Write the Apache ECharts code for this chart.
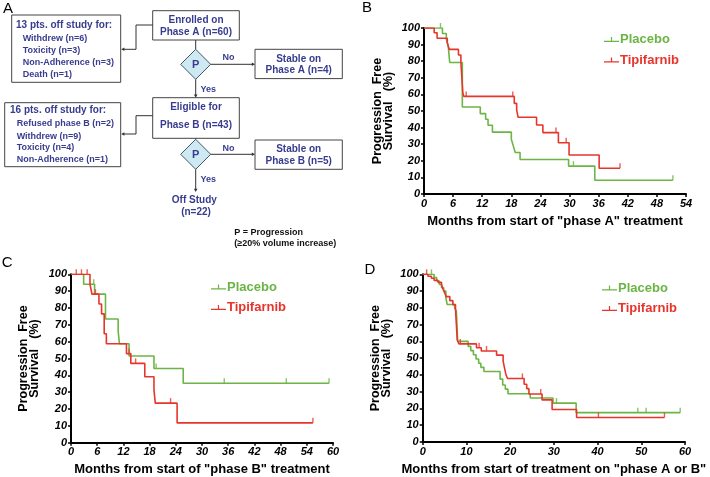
<!DOCTYPE html>
<html><head><meta charset="utf-8">
<script src="https://cdn.jsdelivr.net/npm/echarts/dist/echarts.min.js"></script>
<style>html,body{margin:0;padding:0;background:#fff}#c{width:710px;height:477px}</style>
</head><body><div id="c"></div>
<script>
// ---------- data ----------
const seriesNames = ['Placebo', 'Tipifarnib'];
const yTicks = [0, 10, 20, 30, 40, 50, 60, 70, 80, 90, 100];

// Panel B: months from start of "phase A"
const bPlaceboT = [0, 3.8, 4.6, 5.0, 5.3, 7.9, 11.6, 12.7, 13.2, 14.1, 18.0, 18.4, 18.8, 19.8, 29.8, 35.2, 51.3];
const bPlaceboS = [100, 96.7, 93.3, 88.9, 79.2, 52.4, 48.4, 45, 41.4, 37.3, 33, 29, 25, 20.8, 16.8, 8.3, 8.3];
const bPlaceboCens = [3.4, 30.8, 51.3];
const bTipiT = [0, 2.1, 2.7, 4.8, 5.2, 7.1, 7.6, 8.0, 8.2, 18.6, 19.1, 19.4, 23.2, 24.5, 27.7, 29.9, 36.1, 40.4];
const bTipiS = [100, 97.1, 93.8, 91.2, 87.1, 83.7, 79.4, 61, 58.8, 54.6, 50.5, 46.2, 41.6, 37, 30.9, 23.5, 15.5, 15.5];
const bTipiCens = [8.7, 18.3, 27.2, 29.3, 40.4];

// Panel C: months from start of "phase B"
const cPlaceboT = [0, 2.9, 5.4, 7.9, 10.8, 11.1, 13.3, 19.0, 25.7, 59.1];
const cPlaceboS = [100, 94.1, 88.2, 73.5, 66.2, 58.8, 51.5, 44.1, 35.3, 35.3];
const cPlaceboCens = [5.2, 19.5, 35.1, 49.3, 59.1];
const cTipiT = [0, 4.35, 4.8, 6.4, 7.0, 7.6, 8.1, 12.7, 13.7, 16.9, 19.0, 19.3, 24.3, 55.4];
const cTipiS = [100, 94.1, 88.2, 82.4, 76.5, 64.7, 58.8, 52.9, 47.1, 39.2, 31.4, 23.5, 11.8, 11.8];
const cTipiCens = [1.2, 2.4, 3.7, 5.6, 13.3, 14.8, 22.8, 55.4];

// Panel D: months from start of treatment on "phase A or B"
const dPlaceboT = [0, 2.6, 3.2, 3.8, 4.3, 4.8, 5.3, 5.6, 7.3, 7.7, 8.0, 10.4, 11.0, 11.6, 12.2, 12.8, 13.3, 14.0, 17.7, 18.3, 18.9, 19.5, 24.6, 29.8, 35.1, 58.9];
const dPlaceboS = [100, 98, 96, 94, 92, 90, 86, 82, 80, 78, 60, 57, 54.5, 52, 49.5, 47, 44.5, 42, 37.5, 34, 31.5, 28.8, 26.2, 23.2, 17.5, 17.5];
const dPlaceboCens = [2.0, 30.6, 49.2, 51.1, 58.9];
const dTipiT = [0, 1.2, 2.0, 2.6, 3.5, 4.3, 4.6, 5.0, 5.4, 6.2, 6.9, 7.5, 7.9, 8.3, 12.3, 13.4, 16.9, 18.4, 18.7, 19.0, 19.4, 23.2, 23.8, 24.3, 27.3, 29.6, 35.2, 55.3];
const dTipiS = [100, 98.8, 97.6, 96.4, 95.2, 93.9, 91.5, 89.1, 86.7, 84.3, 81.9, 79.5, 61, 58.5, 56.2, 54.3, 51.8, 48.2, 44.4, 40.6, 37.9, 34.4, 31.8, 28.6, 25.1, 19.4, 14.6, 14.6];
const dTipiCens = [0.9, 8.6, 12.9, 14.6, 22.8, 27.0, 40.2, 55.3];

const xTitles = ['Months from start of "phase A" treatment', 'Months from start of "phase B" treatment', 'Months from start of treatment on "phase A or B"'];
const yTitle = 'Progression  Free\nSurvival   (%)';

// Panel A flowchart texts
const enrolledText = ['Enrolled on', 'Phase A (n=60)'];
const off1Title = '13 pts. off study for:';
const off1Items = ['Withdrew (n=6)', 'Toxicity (n=3)', 'Non-Adherence (n=3)', 'Death (n=1)'];
const stableAText = ['Stable on', 'Phase A (n=4)'];
const eligibleText = ['Eligible for', 'Phase B (n=43)'];
const off2Title = '16 pts. off study for:';
const off2Items = ['Refused phase B (n=2)', 'Withdrew (n=9)', 'Toxicity (n=4)', 'Non-Adherence (n=1)'];
const stableBText = ['Stable on', 'Phase B (n=5)'];
const offStudyText = ['Off Study', '(n=22)'];
const noteText = ['P = Progression', '(\u226520% volume increase)'];

// ---------- build ----------
const GREEN = '#6cb544', RED = '#e8352c', INK = '#383c8e', FF = '"Liberation Sans", Arial, sans-serif';
function km(T, S) { return T.map((t, i) => [t, S[i]]); }
function survAt(T, S, t) { let v = S[0]; for (let i = 0; i < T.length; i++) if (T[i] <= t) v = S[i]; return v; }
function cens(T, S, C) { return C.map(t => [t, survAt(T, S, t)]); }

const panels = [
  {grid: {left: 424, top: 28, width: 262, height: 166}, xmax: 54, xint: 6, gap: 30,
   p: [bPlaceboT, bPlaceboS, bPlaceboCens], t: [bTipiT, bTipiS, bTipiCens], legend: {left: 599, top: 28}},
  {grid: {left: 71, top: 274.3, width: 262, height: 168.4}, xmax: 60, xint: 6, gap: 31,
   p: [cPlaceboT, cPlaceboS, cPlaceboCens], t: [cTipiT, cTipiS, cTipiCens], legend: {left: 206, top: 275.5}},
  {grid: {left: 422.7, top: 274.3, width: 262.3, height: 168}, xmax: 60, xint: 10, gap: 31,
   p: [dPlaceboT, dPlaceboS, dPlaceboCens], t: [dTipiT, dTipiS, dTipiCens], legend: {left: 597, top: 276.5}}
];

const grids = [], xAxes = [], yAxes = [], series = [], legends = [];
const lblStyle = {color: '#000', fontWeight: 'bold', fontStyle: 'italic', fontSize: 11, fontFamily: FF};
const legendIcon = 'path://M0,8 L20,8 L20,9.6 L0,9.6 Z M9.2,3 L10.8,3 L10.8,8 L9.2,8 Z';
panels.forEach((pn, i) => {
  grids.push(pn.grid);
  xAxes.push({type: 'value', gridIndex: i, min: 0, max: pn.xmax, interval: pn.xint,
    axisLine: {show: true, onZero: false, lineStyle: {color: '#000', width: 2}},
    axisTick: {show: true, length: 3, lineStyle: {color: '#000', width: 1.5}},
    axisLabel: Object.assign({margin: 4}, lblStyle), splitLine: {show: false},
    name: xTitles[i], nameLocation: 'middle', nameGap: i === 1 ? 20 : 21,
    nameTextStyle: {color: '#000', fontWeight: 'bold', fontSize: 13, fontFamily: FF}});
  yAxes.push({type: 'value', gridIndex: i, min: 0, max: 100, interval: 10,
    axisLine: {show: true, onZero: false, lineStyle: {color: '#000', width: 2}},
    axisTick: {show: true, length: 3, lineStyle: {color: '#000', width: 1.5}},
    axisLabel: Object.assign({margin: 4, formatter: v => yTicks.includes(v) ? String(v) : ''}, lblStyle), splitLine: {show: false},
    name: yTitle, nameLocation: 'middle', nameRotate: 90, nameGap: pn.gap,
    nameTextStyle: {color: '#000', fontWeight: 'bold', fontSize: 12.5, lineHeight: 11, fontFamily: FF}});
  [[pn.p, 'Placebo', GREEN], [pn.t, 'Tipifarnib', RED]].forEach(([d, nm, col]) => {
    series.push({type: 'line', name: nm, xAxisIndex: i, yAxisIndex: i, step: 'end', showSymbol: false, symbol: 'none',
      data: km(d[0], d[1]), lineStyle: {color: col, width: 1.6}, itemStyle: {color: col}, z: nm === 'Tipifarnib' ? 3 : 2});
    series.push({type: 'scatter', name: nm + ' censored', xAxisIndex: i, yAxisIndex: i, symbol: 'rect',
      symbolSize: [1.4, 5], symbolOffset: [0, -2.5], data: cens(d[0], d[1], d[2]), itemStyle: {color: col}, z: 4});
  });
  legends.push({left: pn.legend.left, top: pn.legend.top, orient: 'vertical', itemGap: 7.5, itemWidth: 15, itemHeight: 12,
    icon: legendIcon, selectedMode: false,
    data: [{name: 'Placebo', textStyle: {color: GREEN}}, {name: 'Tipifarnib', textStyle: {color: RED}}],
    textStyle: {fontWeight: 'bold', fontSize: 13, fontFamily: FF, padding: [0, 0, 0, -4]}});
});

// flowchart graphic
const g = [];
function txt(s, x, y, o) {
  o = o || {};
  const st = {text: s, x: x, y: y, fill: o.color || INK, fontSize: o.size || 10, fontWeight: o.weight || 'bold',
    fontFamily: FF, align: o.align || 'center', verticalAlign: 'middle', textAlign: o.align || 'center', textVerticalAlign: 'middle'};
  g.push({type: 'text', style: st, z: 10});
}
function box(x, y, w, h) { g.push({type: 'rect', shape: {x: x, y: y, width: w, height: h}, style: {fill: '#fff', stroke: '#444', lineWidth: 1}, z: 5}); }
function poly(pts) { g.push({type: 'polyline', shape: {points: pts}, style: {stroke: '#333', fill: null, lineWidth: 1}, z: 6}); }
function arrow(x, y, dir) {
  const a = 3.2, b = 1.8;
  let pts;
  if (dir === 'left') pts = [[x, y], [x + a, y - b], [x + a, y + b]];
  else if (dir === 'right') pts = [[x, y], [x - a, y - b], [x - a, y + b]];
  else pts = [[x, y], [x - b, y - a], [x + b, y - a]];
  g.push({type: 'polygon', shape: {points: pts}, style: {fill: '#333'}, z: 7});
}
function diamond(cx, cy, r) {
  g.push({type: 'polygon', shape: {points: [[cx, cy - r], [cx + r, cy], [cx, cy + r], [cx - r, cy]]},
    style: {fill: '#cfe9f3', stroke: '#3d5868', lineWidth: 1}, z: 6});
  txt('P', cx, cy + 0.5, {size: 11});
}
// boxes
box(152.7, 10.7, 86.6, 29.3); txt(enrolledText[0], 196, 20); txt(enrolledText[1], 196, 32.3);
box(11.7, 15, 109, 67.3); txt(off1Title, 16, 25, {align: 'left'});
off1Items.forEach((s, i) => txt(s, 22.7, [38.7, 51, 63, 75][i], {align: 'left', size: 9}));
box(255, 49.3, 87.3, 29.3); txt(stableAText[0], 298.7, 59); txt(stableAText[1], 298.7, 70.7);
box(152.7, 97.7, 86.6, 40.6); txt(eligibleText[0], 196, 107.3); txt(eligibleText[1], 196, 125.3);
box(4.7, 102.7, 116, 64); txt(off2Title, 10, 110, {align: 'left'});
off2Items.forEach((s, i) => txt(s, 16.7, [124, 136.3, 148, 160][i], {align: 'left', size: 9}));
box(255, 140, 87.3, 29.3); txt(stableBText[0], 298.7, 149.7); txt(stableBText[1], 298.7, 161.7);
// connectors
poly([[152.7, 25], [136, 25], [136, 49.3], [123, 49.3]]); arrow(121.2, 49.3, 'left');
poly([[195.7, 40], [195.7, 49.3]]);
diamond(195.7, 64.3, 15);
poly([[210.7, 64.3], [253, 64.3]]); arrow(255, 64.3, 'right'); txt('No', 228.5, 57.7, {size: 9});
poly([[195.7, 79.3], [195.7, 95]]); arrow(195.7, 97.7, 'down'); txt('Yes', 208.3, 89.3, {size: 9});
poly([[152.7, 115.7], [136, 115.7], [136, 134], [123, 134]]); arrow(121.2, 134, 'left');
poly([[195.7, 138.3], [195.7, 139.3]]);
diamond(195.7, 154.3, 15);
poly([[210.7, 154.3], [253, 154.3]]); arrow(255, 154.3, 'right'); txt('No', 228.5, 148.3, {size: 9});
poly([[195.7, 169.3], [195.7, 189.5]]); arrow(195.7, 192, 'down'); txt('Yes', 208.3, 180, {size: 9});
txt(offStudyText[0], 194.3, 200.7); txt(offStudyText[1], 196, 212.3);
txt(noteText[0], 234.3, 232.7, {align: 'left', size: 9, color: '#111'});
txt(noteText[1], 234.3, 243.7, {align: 'left', size: 9, color: '#111'});
// panel letters
txt('A', 8, 8.5, {size: 15, weight: 'normal', color: '#000'});
txt('B', 367, 7.7, {size: 15, weight: 'normal', color: '#000'});
txt('C', 7.2, 262.5, {size: 15, weight: 'normal', color: '#000'});
txt('D', 370, 269.5, {size: 15, weight: 'normal', color: '#000'});

const chart = echarts.init(document.getElementById('c'), null, {renderer: 'canvas'});
chart.setOption({animation: false, backgroundColor: '#fff', grid: grids, xAxis: xAxes, yAxis: yAxes,
  series: series, legend: legends, graphic: {elements: g}});
</script></body></html>
